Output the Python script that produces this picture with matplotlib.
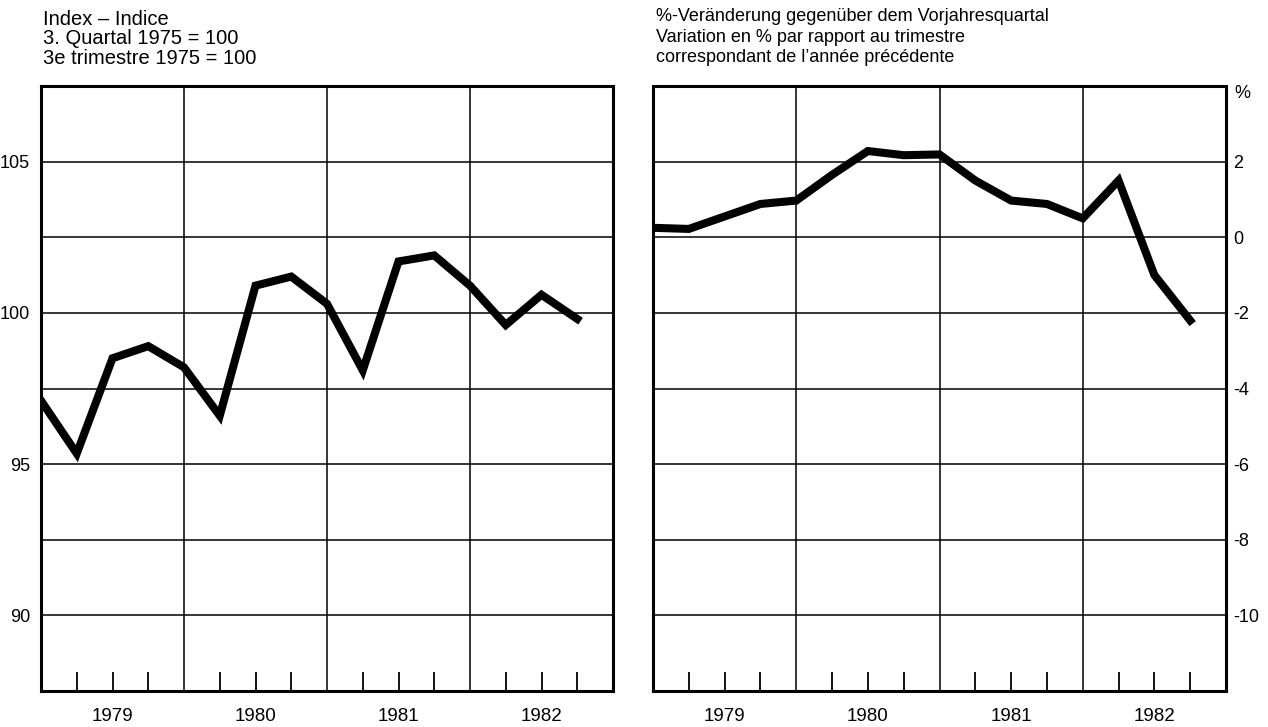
import numpy as np
import matplotlib.pyplot as plt
from matplotlib.ticker import FixedLocator, FixedFormatter

plt.rcParams['font.family'] = ['Liberation Sans', 'DejaVu Sans']
plt.rcParams['axes.unicode_minus'] = False

# quarters from 1979 Q1 to 1982 Q4 (x = quarter index)
quarters = np.arange(16)
index_values = [97.1, 95.35, 98.5, 98.9, 98.2, 96.6, 100.9, 101.2,
                100.3, 98.1, 101.7, 101.9, 100.9, 99.6, 100.6, 99.8]
change_values = [0.25, 0.22, 0.55, 0.88, 0.97, 1.65, 2.28, 2.17,
                 2.19, 1.5, 0.97, 0.88, 0.5, 1.5, -1.0, -2.2]
years = ['1979', '1980', '1981', '1982']

left_title = ['Index \u2013 Indice', '3. Quartal 1975 = 100', '3e trimestre 1975 = 100']
right_title = ['%-Ver\u00e4nderung gegen\u00fcber dem Vorjahresquartal',
               'Variation en % par rapport au trimestre',
               'correspondant de l\u2019ann\u00e9e pr\u00e9c\u00e9dente']

fig = plt.figure(figsize=(12.68, 7.27), dpi=100)
W, H = 1268, 727
ax1 = fig.add_axes([41 / W, 1 - 691 / H, 572 / W, 605 / H])
ax2 = fig.add_axes([653 / W, 1 - 691 / H, 573 / W, 605 / H])


def style_x(ax):
    ax.set_xlim(0, 16)
    ax.xaxis.set_major_locator(FixedLocator([0, 4, 8, 12, 16]))
    ax.xaxis.set_major_formatter(FixedFormatter(['', '', '', '', '']))
    minor = [q for q in range(1, 16) if q % 4 != 0]
    ax.xaxis.set_minor_locator(FixedLocator(minor))
    labels = [years[q // 4] if q % 4 == 2 else '' for q in minor]
    ax.xaxis.set_minor_formatter(FixedFormatter(labels))
    ax.tick_params(axis='x', which='major', length=0)
    ax.tick_params(axis='x', which='minor', direction='in', length=14,
                   width=1.3, labelsize=13.5, pad=12)
    ax.grid(True, which='major', color='black', linewidth=1.1)
    for s in ax.spines.values():
        s.set_linewidth(2.2)
    ax.set_axisbelow(True)


# left panel: index
ax1.plot(quarters, index_values, color='black', linewidth=5.8,
         solid_joinstyle='miter', zorder=3)
ax1.set_ylim(87.5, 107.5)
ax1.yaxis.set_major_locator(FixedLocator([90, 92.5, 95, 97.5, 100, 102.5, 105]))
ax1.yaxis.set_major_formatter(FixedFormatter(['90', '', '95', '', '100', '', '105']))
ax1.tick_params(axis='y', length=0, labelsize=13, pad=8)
style_x(ax1)

# right panel: percent change
ax2.plot(quarters, change_values, color='black', linewidth=5.8,
         solid_joinstyle='miter', zorder=3)
ax2.set_ylim(-12, 4)
ax2.yaxis.set_major_locator(FixedLocator([-10, -8, -6, -4, -2, 0, 2]))
ax2.yaxis.tick_right()
ax2.tick_params(axis='y', length=0, labelsize=13, pad=5)
style_x(ax2)
ax2.text(1.014, 0.988, '%', transform=ax2.transAxes, fontsize=13,
         ha='left', va='center')

for i, line in enumerate(left_title):
    fig.text(43 / W, 1 - (25 + 19.5 * i) / H, line, fontsize=14.5, va='baseline')
for i, line in enumerate(right_title):
    fig.text(656 / W, 1 - (21 + 20.5 * i) / H, line, fontsize=13, va='baseline')

fig.savefig('out.png', dpi=100)
